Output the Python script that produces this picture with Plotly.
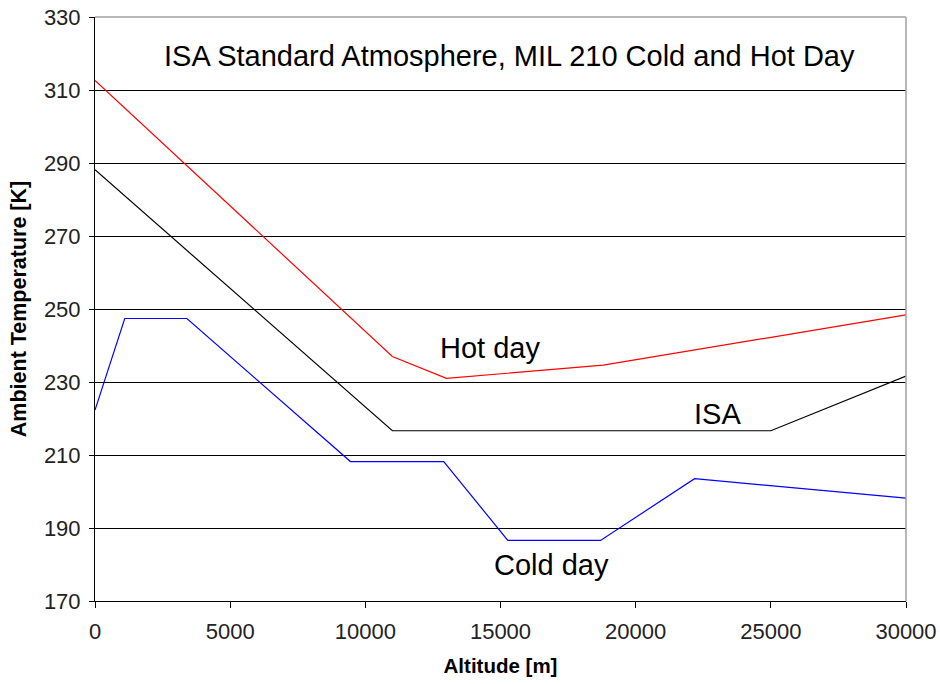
import plotly.graph_objects as go

# Altitude [m] and ambient temperature [K]
hot_alt = [0, 11000, 13000, 18800, 30000]
hot_temp = [312.6, 237.0, 231.0, 234.6, 248.4]

isa_alt = [0, 11000, 25000, 30000]
isa_temp = [288.15, 216.65, 216.65, 231.65]

cold_alt = [0, 1100, 3400, 9450, 12900, 15270, 18700, 22180, 30000]
cold_temp = [222.3, 247.4, 247.4, 208.2, 208.2, 186.6, 186.6, 203.5, 198.2]

y_ticks = [170, 190, 210, 230, 250, 270, 290, 310, 330]
x_ticks = [0, 5000, 10000, 15000, 20000, 25000, 30000]

FONT = "Arial, Liberation Sans, sans-serif"

fig = go.Figure()
fig.add_trace(go.Scatter(x=hot_alt, y=hot_temp, mode="lines",
                         line=dict(color="#ff0000", width=1.2), name="Hot day"))
fig.add_trace(go.Scatter(x=isa_alt, y=isa_temp, mode="lines",
                         line=dict(color="#000000", width=1.2), name="ISA"))
fig.add_trace(go.Scatter(x=cold_alt, y=cold_temp, mode="lines",
                         line=dict(color="#0000ff", width=1.2), name="Cold day"))

annotations = [
    dict(x=15351, y=319.3, text="ISA Standard Atmosphere, MIL 210 Cold and Hot Day",
         font=dict(size=29, color="#000000", family=FONT)),
    dict(x=14611, y=239.3, text="Hot day", font=dict(size=29, color="#000000", family=FONT)),
    dict(x=23045, y=221.2, text="ISA", font=dict(size=29, color="#000000", family=FONT)),
    dict(x=16868, y=179.9, text="Cold day", font=dict(size=29, color="#000000", family=FONT)),
]
for a in annotations:
    a.update(xref="x", yref="y", showarrow=False, xanchor="center", yanchor="middle")

fig.update_layout(
    width=940, height=684,
    margin=dict(l=95, r=34, t=17, b=83, autoexpand=False),
    paper_bgcolor="white", plot_bgcolor="white",
    showlegend=False,
    annotations=annotations,
    xaxis=dict(range=[0, 30000], tickvals=x_ticks, ticktext=[str(v) for v in x_ticks],
               automargin=False, ticklabeloverflow="allow",
               showgrid=False, zeroline=False, showline=True, linecolor="black", linewidth=1,
               ticks="outside", ticklen=6, tickcolor="black", ticklabelstandoff=5,
               tickfont=dict(size=22, color="#222222", family=FONT),
               title=dict(text="<b>Altitude [m]</b>", font=dict(size=20.5, color="#000000", family=FONT),
                          standoff=15)),
    yaxis=dict(range=[170, 330], tickvals=y_ticks, ticktext=[str(v) for v in y_ticks],
               automargin=False, ticklabeloverflow="allow",
               showgrid=True, gridcolor="black", gridwidth=1, zeroline=False,
               showline=True, linecolor="black", linewidth=1,
               ticks="outside", ticklen=5, tickcolor="black", ticklabelstandoff=4,
               tickfont=dict(size=22, color="#222222", family=FONT),
               title=dict(text="<b>Ambient Temperature [K]</b>", font=dict(size=21.5, color="#000000", family=FONT),
                          standoff=11)),
    shapes=[
        dict(type="line", xref="paper", yref="paper", x0=0, x1=1, y0=1, y1=1,
             line=dict(color="#a0a0a0", width=1.5), layer="above"),
        dict(type="line", xref="paper", yref="paper", x0=1, x1=1, y0=0, y1=1,
             line=dict(color="#a0a0a0", width=1.5), layer="above"),
    ],
)

fig.write_html("out.html",
               config={"displayModeBar": False},
               post_script="document.body.style.margin='0';document.body.style.overflow='hidden';")
